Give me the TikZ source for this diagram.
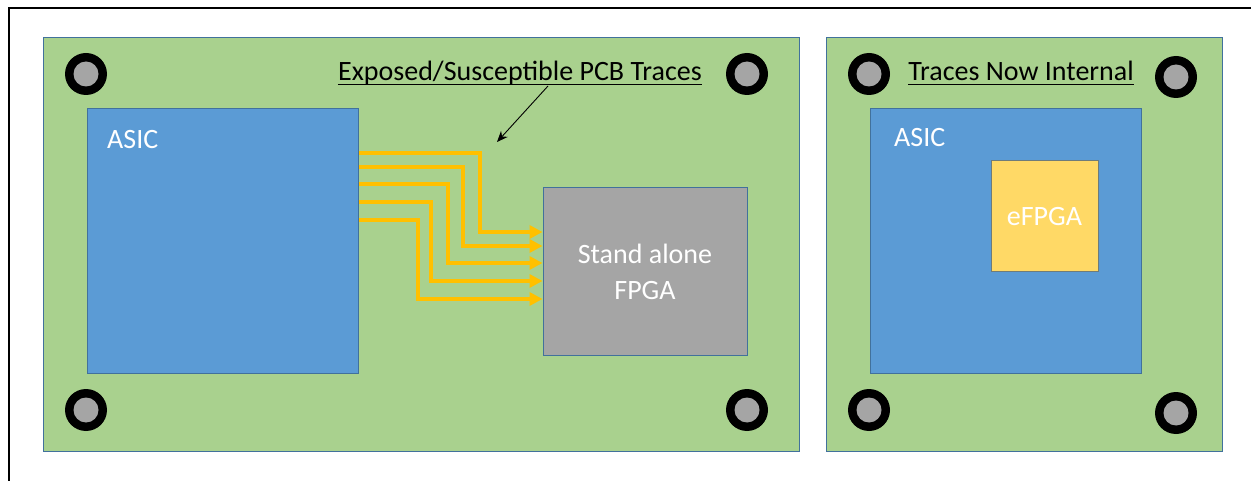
\documentclass[tikz,border=0pt]{standalone}
\usepackage{fontspec}
\setmainfont{Carlito}
\usetikzlibrary{arrows.meta}
\definecolor{boardgreen}{HTML}{A9D18E}
\definecolor{asicblue}{HTML}{5B9BD5}
\definecolor{edgeblue}{HTML}{41719C}
\definecolor{fpgagray}{HTML}{A5A5A5}
\definecolor{efpgayellow}{HTML}{FFD966}
\definecolor{traceyellow}{HTML}{FFC000}
\definecolor{efpgaedge}{HTML}{6F7C7A}
\tikzset{
  board/.style={draw=edgeblue, fill=boardgreen, line width=1pt, inner sep=0pt},
  chip/.style={draw=edgeblue, fill=asicblue, line width=1pt, inner sep=0pt},
  fpgabox/.style={draw=edgeblue, fill=fpgagray, line width=1pt, inner sep=0pt, align=center, text=white, font=\fontsize{28}{36}\selectfont},
  efpgabox/.style={draw=efpgaedge, fill=efpgayellow, line width=1pt, inner sep=0pt, text=white, font=\fontsize{28}{34}\selectfont},
  chiplabel/.style={text=white, font=\fontsize{28}{34}\selectfont, inner sep=0pt},
  title/.style={text=black, font=\fontsize{28}{34}\selectfont, inner sep=0pt},
  uline/.style={draw=black, line width=1.8pt},
  holeout/.style={circle, fill=black, minimum size=42pt, inner sep=0pt},
  holein/.style={circle, fill=fpgagray, minimum size=25pt, inner sep=0pt},
  trace/.style={draw=traceyellow, line width=4pt, -{Triangle[length=13pt,width=13pt]}},
  pointer/.style={draw=black, line width=0.9pt, -{Stealth[length=11pt,width=9pt]}},
}
\newcommand{\screwhole}[2]{%
  \node[holeout] (#1) at #2 {};
  \node[holein] (#1i) at #2 {};
}
\begin{document}
\begin{tikzpicture}[x=1pt,y=-1pt]
\useasboundingbox (0,0) rectangle (1251,481);
\fill[white] (0,0) rectangle (1251,481);
% outer frame
\draw[black, line width=2pt] (9,481) -- (9,8) -- (1251,8);

% boards
\node[board, minimum width=756pt, minimum height=413pt] (boardL) at (421,244.5) {};
\node[board, minimum width=396pt, minimum height=413pt] (boardR) at (1024,244.5) {};

% screw holes
\screwhole{hLtl}{(86,74)}
\screwhole{hLtr}{(747,74)}
\screwhole{hLbl}{(86,410)}
\screwhole{hLbr}{(747,410)}
\screwhole{hRtl}{(869,74)}
\screwhole{hRtr}{(1176,77)}
\screwhole{hRbl}{(869,410)}
\screwhole{hRbr}{(1176,413)}

% chips
\node[chip, minimum width=271pt, minimum height=264pt] (asicL) at (222.5,241) {};
\node[chiplabel, anchor=west] (asicLlbl) at (107,140) {ASIC};
\node[fpgabox, minimum width=204pt, minimum height=167pt] (fpga) at (645,271.5) {Stand alone\\FPGA};

\node[chip, minimum width=271pt, minimum height=264pt] (asicR) at (1005.5,241) {};
\node[chiplabel, anchor=west] (asicRlbl) at (894,138) {ASIC};
\node[efpgabox, minimum width=107pt, minimum height=111pt] (efpga) at (1044.5,216.5) {eFPGA};

% titles
\node[title, anchor=base] (titleL) at (520,81) {Exposed/Susceptible PCB Traces};
\node[title, anchor=base] (titleR) at (1021,81) {Traces Now Internal};
\draw[uline] ([yshift=-3.5pt]titleL.base west) -- ([yshift=-3.5pt]titleL.base east);
\draw[uline] ([yshift=-3.5pt]titleR.base west) -- ([yshift=-3.5pt]titleR.base east);

% traces
\draw[trace] (asicL.east |- 0,153) -- (480,153) -- (480,232) -- (fpga.west |- 0,232);
\draw[trace] (asicL.east |- 0,167) -- (463,167) -- (463,246) -- (fpga.west |- 0,246);
\draw[trace] (asicL.east |- 0,184) -- (448,184) -- (448,263) -- (fpga.west |- 0,263);
\draw[trace] (asicL.east |- 0,202) -- (431,202) -- (431,281) -- (fpga.west |- 0,281);
\draw[trace] (asicL.east |- 0,220) -- (418,220) -- (418,299) -- (fpga.west |- 0,299);

% pointer
\coordinate (pstart) at (548,86);
\coordinate (ptip) at (497,142);
\draw[pointer] (pstart) -- (ptip);
\end{tikzpicture}
\end{document}
